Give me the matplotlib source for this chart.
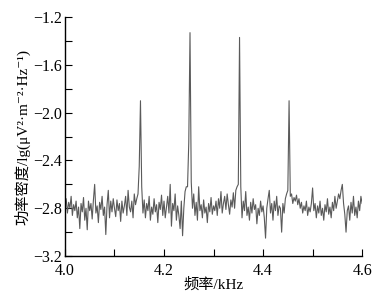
import numpy as np
import matplotlib
matplotlib.use("Agg")
import matplotlib.pyplot as plt
from matplotlib.ticker import MultipleLocator, FuncFormatter

# frequency grid (kHz)
freq_start = 4.0
freq_step = 0.0025

# power spectral density values, lg(uV^2 m^-2 Hz^-1)
psd = [
    -2.78, -2.72, -2.84, -2.75, -2.80, -2.70, -2.86, -2.77, -2.82, -2.74, -2.88, -2.79, -2.97, -2.76, -2.83, -2.71, -2.90, -2.80, -2.98, -2.74,
    -2.82, -2.76, -2.89, -2.73, -2.60, -2.84, -2.78, -2.92, -2.75, -2.81, -2.70, -2.86, -2.79, -3.02, -2.77, -2.65, -2.88, -2.74, -2.83, -2.72,
    -2.80, -2.87, -2.73, -2.82, -2.76, -2.91, -2.74, -2.84, -2.78, -2.70, -2.86, -2.65, -2.79, -2.83, -2.74, -2.88, -2.68, -2.77, -2.72, -2.68,
    -2.45, -1.90, -2.62, -2.84, -2.73, -2.88, -2.76, -2.82, -2.70, -2.90, -2.79, -2.85, -2.72, -2.83, -2.77, -2.92, -2.75, -2.81, -2.69, -2.86,
    -2.74, -2.88, -2.79, -2.70, -2.84, -2.60, -2.95, -2.76, -2.82, -2.68, -2.90, -2.78, -2.86, -2.97, -2.74, -3.03, -2.80, -2.66, -2.62, -2.62,
    -2.25, -1.33, -2.58, -2.80, -2.68, -2.86, -2.75, -2.90, -2.62, -2.82, -2.77, -2.88, -2.73, -2.84, -2.79, -2.92, -2.76, -2.83, -2.71, -2.85,
    -2.78, -2.82, -2.74, -2.86, -2.72, -2.80, -2.66, -2.84, -2.76, -2.70, -2.81, -2.68, -2.77, -2.85, -2.73, -2.79, -2.67, -2.80, -2.65, -2.62,
    -2.60, -1.37, -2.62, -2.88, -2.74, -2.82, -2.66, -2.86, -2.79, -2.90, -2.75, -2.84, -2.72, -2.81, -2.77, -2.93, -2.80, -2.86, -2.74, -2.83,
    -2.78, -2.88, -3.05, -2.80, -2.72, -2.65, -2.84, -2.76, -2.90, -2.74, -2.82, -2.70, -2.86, -2.78, -2.80, -3.00, -2.76, -2.84, -2.72, -2.68,
    -2.65, -1.90, -2.70, -2.68, -2.76, -2.71, -2.74, -2.69, -2.77, -2.72, -2.80, -2.75, -2.84, -2.78, -2.82, -2.74, -2.86, -2.79, -2.83, -2.76,
    -2.63, -2.82, -2.76, -2.88, -2.78, -2.84, -2.74, -2.86, -2.80, -2.90, -2.77, -2.83, -2.72, -2.85, -2.79, -2.88, -2.75, -2.82, -2.70, -2.80,
    -2.74, -2.68, -2.72, -2.65, -2.60, -2.76, -2.85, -3.00, -2.82, -2.78, -2.90, -2.75, -2.84, -2.70, -2.86, -2.79, -2.88, -2.74, -2.82, -2.70,
    -2.76,
]
freq = freq_start + freq_step * np.arange(len(psd))

x_label = "频率/kHz"
y_label = "功率密度/lg(μV²·m⁻²·Hz⁻¹)"

fonts = ["Liberation Serif", "Noto Sans CJK SC", "DejaVu Serif"]
plt.rcParams["font.family"] = fonts

fig = plt.figure(figsize=(3.82, 2.95), dpi=100)
ax = fig.add_axes([0.170, 0.132, 0.778, 0.810])
ax.plot(freq, psd, color="#5a5a5a", lw=0.8)

ax.set_xlim(4.0, 4.6)
ax.set_ylim(-3.2, -1.2)
ax.xaxis.set_major_locator(MultipleLocator(0.2))
ax.xaxis.set_minor_locator(MultipleLocator(0.1))
ax.yaxis.set_major_locator(MultipleLocator(0.4))
ax.yaxis.set_minor_locator(MultipleLocator(0.2))
fmt = FuncFormatter(lambda v, p: f"{v:.1f}".replace("-", "\u2212"))
ax.xaxis.set_major_formatter(fmt)
ax.yaxis.set_major_formatter(fmt)
ax.tick_params(which="both", direction="in", length=5, width=0.8, labelsize=11.5, pad=2)
ax.tick_params(axis="x", pad=5)
for s in ["top", "right"]:
    ax.spines[s].set_visible(False)
for s in ["left", "bottom"]:
    ax.spines[s].set_linewidth(1.0)

ax.set_xlabel(x_label, fontsize=11, labelpad=-1)
ax.set_ylabel(y_label, fontsize=11, labelpad=2)

fig.savefig("out.png", dpi=100)
